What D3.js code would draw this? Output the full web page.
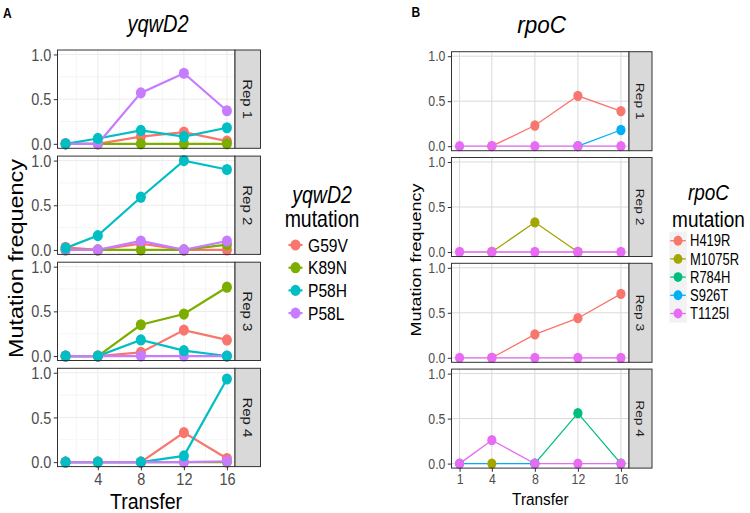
<!DOCTYPE html>
<html>
<head>
<meta charset="utf-8">
<script src="https://cdn.jsdelivr.net/npm/d3@7"></script>
<style>
  body { margin: 0; background: #fff; }
  text { font-family: "Liberation Sans", Arial, sans-serif; }
</style>
</head>
<body>
<svg id="chart"></svg>
<script>
const WIDTH = 750;
const HEIGHT = 513;
const STRETCH = 1.2; // the figure text looks vertically stretched

const transfers = [1, 4, 8, 12, 16];
const reps = ["Rep 1", "Rep 2", "Rep 3", "Rep 4"];
const yTicks = [0, 0.5, 1.0];
const yqwdXTicks = [4, 8, 12, 16];
const rpocXTicks = [1, 4, 8, 12, 16];

// yqwD2 - one row per rep, one value per transfer
const yqwdMutations = ["G59V", "K89N", "P58H", "P58L"];
const yqwdColors = ["#F8766D", "#7CAE00", "#00BFC4", "#C77CFF"];
const yqwdG59V = [[0, 0, 0.08, 0.13, 0.03], [0.03, 0, 0.07, 0, 0], [0, 0, 0.04, 0.29, 0.18], [0, 0, 0, 0.33, 0.04]];
const yqwdK89N = [[0, 0, 0, 0, 0], [0, 0, 0, 0, 0.06], [0, 0, 0.35, 0.47, 0.77], [0, 0, 0, 0, 0]];
const yqwdP58H = [[0, 0.06, 0.15, 0.08, 0.18], [0.02, 0.16, 0.59, 1.0, 0.9], [0, 0, 0.18, 0.06, 0], [0, 0, 0, 0.07, 0.93]];
const yqwdP58L = [[0, 0, 0.57, 0.79, 0.37], [0, 0, 0.1, 0, 0.1], [0, 0, 0, 0, 0], [0, 0, 0, 0, 0.01]];

// rpoC - null = no observation
const rpocMutations = ["H419R", "M1075R", "R784H", "S926T", "T1125I"];
const rpocColors = ["#F8766D", "#A3A500", "#00BF7D", "#00B0F6", "#E76BF3"];
const rpocH419R = [[null, 0, 0.23, 0.56, 0.39], [null, null, null, null, null], [null, 0, 0.26, 0.44, 0.71], [null, null, null, null, null]];
const rpocM1075R = [[null, null, null, null, null], [null, 0, 0.33, 0, null], [null, null, null, null, null], [null, 0, null, null, null]];
const rpocR784H = [[null, null, null, null, null], [null, null, null, null, null], [null, null, null, null, null], [null, null, 0, 0.56, 0]];
const rpocS926T = [[null, null, null, 0, 0.18], [null, null, null, null, null], [null, null, null, null, null], [0, null, 0, null, null]];
const rpocT1125I = [[0, 0, 0, 0, 0], [0, 0, 0, 0, 0], [0, 0, 0, 0, 0], [0, 0.26, 0, 0, 0]];

const svg = d3.select("#chart")
    .attr("width", WIDTH)
    .attr("height", HEIGHT);

function addText(x, y, str, opts) {
    const rot = opts.rotate ? ' rotate(' + opts.rotate + ')' : '';
    const k = opts.stretch || STRETCH;
    return svg.append("text")
        .attr("transform", 'translate(' + x + ',' + y + ') scale(1,' + k + ')' + rot)
        .attr("text-anchor", opts.anchor || "middle")
        .attr("font-size", opts.size)
        .attr("font-style", opts.italic ? "italic" : null)
        .attr("font-weight", opts.bold ? "bold" : null)
        .attr("fill", opts.color || "#000")
        .text(str);
}

function drawFacets(cfg) {
    const x = d3.scaleLinear().domain([0.25, 16.75]).range([cfg.left, cfg.right]);
    const series = cfg.mutations.map((m, i) => ({ name: m, color: cfg.colors[i], values: cfg.values[i] }));

    reps.forEach((rep, r) => {
        const top = cfg.top + r * cfg.step;
        const y = d3.scaleLinear().domain([-0.05, 1.05]).range([top + cfg.h, top]);
        const g = svg.append("g");

        g.append("rect")
            .attr("x", cfg.left).attr("y", top)
            .attr("width", cfg.right - cfg.left).attr("height", cfg.h)
            .attr("fill", "#fff");

        // grid
        if (cfg.minor) {
            g.selectAll(".mx").data([2, 6, 10, 14]).join("line")
                .attr("x1", d => x(d)).attr("x2", d => x(d))
                .attr("y1", top).attr("y2", top + cfg.h)
                .attr("stroke", "#F2F2F2").attr("stroke-width", 0.8);
            g.selectAll(".my").data([0.25, 0.75]).join("line")
                .attr("x1", cfg.left).attr("x2", cfg.right)
                .attr("y1", d => y(d)).attr("y2", d => y(d))
                .attr("stroke", "#F2F2F2").attr("stroke-width", 0.8);
        }
        g.selectAll(".gx").data(cfg.xTicks).join("line")
            .attr("x1", d => x(d)).attr("x2", d => x(d))
            .attr("y1", top).attr("y2", top + cfg.h)
            .attr("stroke", cfg.gridColor).attr("stroke-width", 1);
        g.selectAll(".gy").data(yTicks).join("line")
            .attr("x1", cfg.left).attr("x2", cfg.right)
            .attr("y1", d => y(d)).attr("y2", d => y(d))
            .attr("stroke", cfg.gridColor).attr("stroke-width", 1);

        // lines
        const line = d3.line()
            .x(d => x(d.t))
            .y(d => y(d.v));
        series.forEach(s => {
            const pts = transfers.map((t, i) => ({ t: t, v: s.values[r][i] })).filter(d => d.v !== null);
            if (pts.length < 2) return;
            g.append("path")
                .datum(pts)
                .attr("d", line)
                .attr("fill", "none")
                .attr("stroke", s.color)
                .attr("stroke-width", cfg.lineWidth);
        });

        // points
        cfg.pointOrder.forEach(idx => {
            const s = series[idx];
            const pts = transfers.map((t, i) => ({ t: t, v: s.values[r][i] })).filter(d => d.v !== null);
            g.selectAll(null).data(pts).join("ellipse")
                .attr("cx", d => x(d.t))
                .attr("cy", d => y(d.v))
                .attr("rx", cfg.pr)
                .attr("ry", cfg.pr * 1.12)
                .attr("fill", s.color);
        });

        // border
        g.append("rect")
            .attr("x", cfg.left).attr("y", top)
            .attr("width", cfg.right - cfg.left).attr("height", cfg.h)
            .attr("fill", "none").attr("stroke", "#333").attr("stroke-width", 1);

        // strip
        g.append("rect")
            .attr("x", cfg.right).attr("y", top)
            .attr("width", cfg.stripW).attr("height", cfg.h)
            .attr("fill", "#D9D9D9").attr("stroke", "#333").attr("stroke-width", 1);
        addText(cfg.right + cfg.stripW / 2 - cfg.stripSize * 0.36, top + cfg.h / 2, rep,
            { size: cfg.stripSize, rotate: 90, color: "#1A1A1A" });

        // y axis
        const yAxis = d3.axisLeft(y).tickValues(yTicks).tickFormat(d3.format(".1f"))
            .tickSize(3.7).tickPadding(2.4);
        const ya = g.append("g")
            .attr("transform", 'translate(' + cfg.left + ',0)')
            .call(yAxis);
        ya.select(".domain").remove();
        ya.selectAll("line").attr("stroke", "#333");
        ya.selectAll("text")
            .attr("font-size", cfg.tickSize)
            .attr("font-family", '"Liberation Sans", Arial, sans-serif')
            .attr("fill", "#4D4D4D")
            .attr("transform", 'scale(1,' + STRETCH + ')');

        if (r === reps.length - 1) {
            const xAxis = d3.axisBottom(x).tickValues(cfg.xTicks)
                .tickSize(3.7).tickPadding(cfg.xPad);
            const xa = g.append("g")
                .attr("transform", 'translate(0,' + (top + cfg.h) + ')')
                .call(xAxis);
            xa.select(".domain").remove();
            xa.selectAll("line").attr("stroke", "#333");
            xa.selectAll("text")
                .attr("font-size", cfg.tickSize)
                .attr("font-family", '"Liberation Sans", Arial, sans-serif')
                .attr("fill", "#4D4D4D")
                .attr("transform", 'scale(1,' + STRETCH + ')');
        }
    });
}

function drawLegend(cfg) {
    addText(cfg.cx, cfg.titleY, cfg.title, { size: cfg.titleSize, italic: true });
    addText(cfg.cx, cfg.titleY + cfg.titleGap, "mutation", { size: cfg.titleSize });
    cfg.mutations.forEach((m, i) => {
        const yy = cfg.keyY + i * cfg.keyStep;
        if (cfg.keyBg) {
            svg.append("rect")
                .attr("x", cfg.keyX - cfg.keyW / 2).attr("y", yy - cfg.keyStep / 2)
                .attr("width", cfg.keyW).attr("height", cfg.keyStep)
                .attr("fill", "#F2F2F2");
        }
        svg.append("line")
            .attr("x1", cfg.keyX - cfg.keyW / 2 + 1).attr("x2", cfg.keyX + cfg.keyW / 2 - 1)
            .attr("y1", yy).attr("y2", yy)
            .attr("stroke", cfg.colors[i]).attr("stroke-width", cfg.lineWidth);
        svg.append("ellipse")
            .attr("cx", cfg.keyX).attr("cy", yy)
            .attr("rx", cfg.pr).attr("ry", cfg.pr * 1.12)
            .attr("fill", cfg.colors[i]);
        addText(cfg.labelX, yy + cfg.labelSize * 0.36 * STRETCH, m, { size: cfg.labelSize, anchor: "start" });
    });
}

// ---- panel A : yqwD2
drawFacets({
    left: 57.5, right: 235, stripW: 25.5, top: 50, step: 106.1, h: 98.3,
    mutations: yqwdMutations, colors: yqwdColors,
    values: [yqwdG59V, yqwdK89N, yqwdP58H, yqwdP58L],
    pointOrder: [0, 1, 3, 2],
    xTicks: yqwdXTicks, minor: true, gridColor: "#EBEBEB",
    lineWidth: 2.2, pr: 5, tickSize: 14.5, stripSize: 12.5, xPad: 1.6
});
addText(3, 17.5, "A", { size: 12, bold: true, anchor: "start" });
addText(158, 32, "yqwD2", { size: 20, italic: true });
addText(146, 508.5, "Transfer", { size: 19.6, stretch: 1.12 });
addText(23, 258.5, "Mutation frequency", { size: 19.5, rotate: -90 });
drawLegend({
    title: "yqwD2", mutations: yqwdMutations, colors: yqwdColors,
    cx: 322, titleY: 203, titleGap: 23.5, titleSize: 19.5,
    keyX: 295.5, keyW: 16, keyY: 245, keyStep: 22.7,
    labelX: 308, labelSize: 15.6, lineWidth: 2.2, pr: 5, keyBg: false
});

// ---- panel B : rpoC
drawFacets({
    left: 451.5, right: 629, stripW: 23, top: 51.7, step: 105.8, h: 99,
    mutations: rpocMutations, colors: rpocColors,
    values: [rpocH419R, rpocM1075R, rpocR784H, rpocS926T, rpocT1125I],
    pointOrder: [0, 1, 2, 3, 4],
    xTicks: rpocXTicks, minor: false, gridColor: "#D9D9D9",
    lineWidth: 1.3, pr: 4.6, tickSize: 12.3, stripSize: 11.5, xPad: 1
});
addText(411.5, 16.8, "B", { size: 12, bold: true, anchor: "start" });
addText(541.7, 32.5, "rpoC", { size: 22.5, italic: true, stretch: 1.1 });
addText(540.3, 505, "Transfer", { size: 15.3, stretch: 1.1 });
addText(421, 260, "Mutation frequency", { size: 15, rotate: -90 });
drawLegend({
    title: "rpoC", mutations: rpocMutations, colors: rpocColors,
    cx: 708.5, titleY: 200, titleGap: 27, titleSize: 19,
    keyX: 678, keyW: 17.5, keyY: 240.7, keyStep: 18.2,
    labelX: 690, labelSize: 13, lineWidth: 1.3, pr: 4.4, keyBg: true
});
</script>
</body>
</html>
